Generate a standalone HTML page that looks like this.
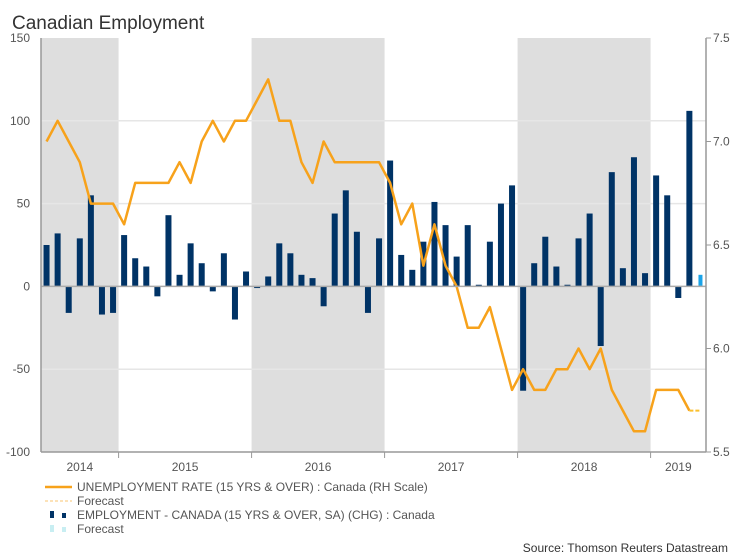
<!DOCTYPE html>
<html><head><meta charset="utf-8"><style>
body{margin:0;background:#fff;font-family:"Liberation Sans",sans-serif;}
svg text{font-family:"Liberation Sans",sans-serif;}
</style></head><body>
<svg id="chart" width="740" height="555" xmlns="http://www.w3.org/2000/svg">
<text x="12" y="29" font-size="19" fill="#333">Canadian Employment</text>
<g id="bands"></g><g id="grid"></g><g id="bars"></g><g id="lines"></g><g id="axes"></g>
<g>
<line x1="45" y1="487" x2="72" y2="487" stroke="#f7a21b" stroke-width="2.5"/>
<text x="77" y="491" font-size="12" fill="#555">UNEMPLOYMENT RATE (15 YRS &amp; OVER) : Canada (RH Scale)</text>
<line x1="45" y1="501" x2="72" y2="501" stroke="#fbd9a0" stroke-width="1.5" stroke-dasharray="3,2"/>
<text x="77" y="505" font-size="12" fill="#555">Forecast</text>
<rect x="50" y="511" width="4" height="7" fill="#003366"/>
<rect x="62" y="513" width="4" height="5" fill="#003366"/>
<text x="77" y="519" font-size="12" fill="#555">EMPLOYMENT - CANADA (15 YRS &amp; OVER, SA) (CHG) : Canada</text>
<rect x="50" y="525" width="4" height="7" fill="#c8eef2"/>
<rect x="62" y="527" width="4" height="5" fill="#c8eef2"/>
<text x="77" y="533" font-size="12" fill="#555">Forecast</text>
</g>
<text x="728" y="552" font-size="12" fill="#333" text-anchor="end">Source: Thomson Reuters Datastream</text>
</svg>
<script>
const employment = [25,32,-16,29,55,-17,-16,
 31,17,12,-6,43,7,26,14,-3,20,-20,9,
 -1,6,26,20,7,5,-12,44,58,33,-16,29,
 76,19,10,27,51,37,18,37,1,27,50,61,
 -63,14,30,12,1,29,44,-36,69,11,78,8,
 67,55,-7,106];
const employmentForecast = [7];
const unemployment = [7.0,7.1,7.0,6.9,6.7,6.7,6.7,
 6.6,6.8,6.8,6.8,6.8,6.9,6.8,7.0,7.1,7.0,7.1,7.1,
 7.2,7.3,7.1,7.1,6.9,6.8,7.0,6.9,6.9,6.9,6.9,6.9,
 6.8,6.6,6.7,6.4,6.6,6.4,6.3,6.1,6.1,6.2,6.0,5.8,
 5.9,5.8,5.8,5.9,5.9,6.0,5.9,6.0,5.8,5.7,5.6,5.6,
 5.8,5.8,5.8,5.7];
const unemploymentForecast = [5.7];
const years = ["2014","2015","2016","2017","2018","2019"];
const yearStartMonth = [0,7,19,31,43,55];
const leftTicks = [150,100,50,0,-50,-100];
const rightTicks = ["7.5","7.0","6.5","6.0","5.5"];
const shadedYears = [0,2,4];

const NS="http://www.w3.org/2000/svg";
const X0=41,X1=706,Y0=38,Y1=452,N=60;
const w=(X1-X0)/N;
const xc=i=>X0+(i+0.5)*w, xe=i=>X0+i*w;
const yL=v=>Y1-(v+100)/250*(Y1-Y0);
const yR=v=>Y1-(v-5.5)/2*(Y1-Y0);
function mk(t,a,p){const e=document.createElementNS(NS,t);for(const k in a)e.setAttribute(k,a[k]);document.getElementById(p).appendChild(e);return e;}

shadedYears.forEach(k=>{
 const s=yearStartMonth[k], e=k+1<years.length?yearStartMonth[k+1]:N;
 const r=mk('rect',{x:xe(s),y:Y0,width:xe(e)-xe(s),height:Y1-Y0,fill:'#dedede'},'bands');
 
 
});
leftTicks.forEach(v=>{
 if(v!==0&&v!==-100&&v!==150){const g=mk('line',{x1:X0,x2:X1,y1:yL(v),y2:yL(v),stroke:'#e6e6e6','stroke-width':1.5},'grid');
 
 }
 const t=mk('text',{x:30,y:yL(v)+4,'font-size':12,fill:'#555','text-anchor':'end'},'axes');t.textContent=v;
 
 
});
rightTicks.forEach(v=>{
 const y=yR(parseFloat(v));
 mk('line',{x1:X1,x2:X1+5,y1:y,y2:y,stroke:'#999'},'axes');
 const t=mk('text',{x:713,y:y+4,'font-size':12,fill:'#555'},'axes');t.textContent=v;
 
 
});
employment.forEach((v,i)=>{
 const y=yL(Math.max(v,0)),h=Math.abs(yL(v)-yL(0));
 const r=mk('rect',{x:xc(i)-3,y:y,width:6,height:Math.max(h,1),fill:'#003366'},'bars');
 
 
});
employmentForecast.forEach((v,j)=>{
 const i=employment.length+j;
 const r=mk('rect',{x:xc(i)-2,y:yL(Math.max(v,0)),width:4,height:Math.abs(yL(v)-yL(0)),fill:'#1aa3e8'},'bars');
 
 
});
const z=mk('line',{x1:X0,x2:X1,y1:yL(0),y2:yL(0),stroke:'#aaa','stroke-width':1.5},'axes');


const pl=mk('polyline',{points:unemployment.map((v,i)=>xc(i)+','+yR(v)).join(' '),fill:'none',stroke:'#f7a21b','stroke-width':2.5,'stroke-linejoin':'round'},'lines');


const last=unemployment.length-1;
const fp=[xc(last)+','+yR(unemployment[last])].concat(unemploymentForecast.map((v,j)=>xc(last+1+j)+','+yR(v)));
const fl=mk('polyline',{points:fp.join(' '),fill:'none',stroke:'#fbc02d','stroke-width':2,'stroke-dasharray':'4,2'},'lines');


mk('line',{x1:X0,x2:X0,y1:Y0,y2:Y1,stroke:'#999','stroke-width':1.5},'axes');
mk('line',{x1:X1,x2:X1,y1:Y0,y2:Y1,stroke:'#999','stroke-width':1.5},'axes');
mk('line',{x1:X0,x2:X1,y1:Y1,y2:Y1,stroke:'#999','stroke-width':1.5},'axes');
years.forEach((yr,k)=>{
 const s=yearStartMonth[k], e=k+1<years.length?yearStartMonth[k+1]:N;
 if(k>0)mk('line',{x1:xe(s),x2:xe(s),y1:Y1,y2:Y1+6,stroke:'#999'},'axes');
 const t=mk('text',{x:(xe(s)+xe(e))/2,y:471,'font-size':12,fill:'#555','text-anchor':'middle'},'axes');t.textContent=yr;
 
 
});
</script>
</body></html>
